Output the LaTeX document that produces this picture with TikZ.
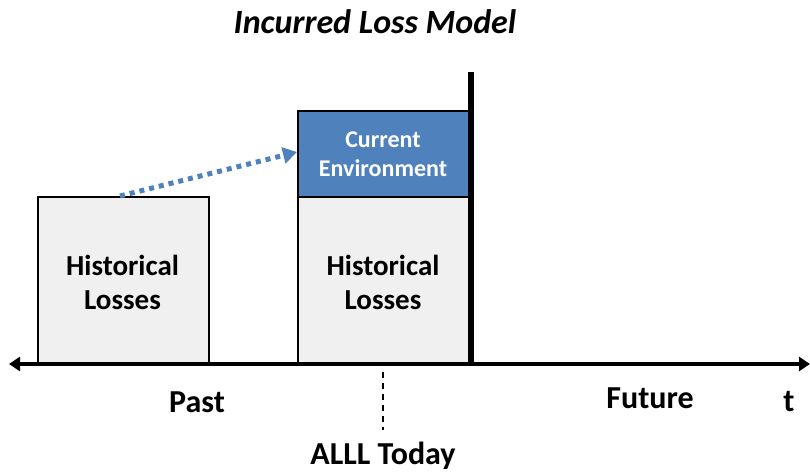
\documentclass[tikz,border=0pt]{standalone}
\usepackage{fontspec}
\setmainfont{Carlito}
\usetikzlibrary{arrows.meta}
\definecolor{boxgray}{HTML}{F0F0F0}
\definecolor{envblue}{HTML}{4F81BD}
\tikzset{
  lossbox/.style={draw=black, line width=1.5pt, fill=boxgray},
  envbox/.style={draw=black, line width=1.5pt, fill=envblue},
  boxtext/.style={font=\bfseries\fontsize{29}{34}\selectfont, align=center, text=black},
  envtext/.style={font=\bfseries\fontsize{24}{29}\selectfont, align=center, text=white},
  axislabel/.style={font=\bfseries\fontsize{32}{38}\selectfont, text=black}
}
\begin{document}
\begin{tikzpicture}[x=1pt,y=-1pt]
\useasboundingbox (0,0) rectangle (810,474);
% boxes
\node[lossbox, minimum width=171pt, minimum height=168pt, inner sep=0pt, anchor=north west] (hist1) at (37,196) {};
\node[boxtext] (hist1t) at (122.5,282) {Historical\\Losses};
\node[lossbox, minimum width=172pt, minimum height=168pt, inner sep=0pt, anchor=north west] (hist2) at (297,196) {};
\node[boxtext] (hist2t) at (383,282) {Historical\\Losses};
\node[envbox, minimum width=172pt, minimum height=86pt, inner sep=0pt, anchor=north west] (env) at (297,110) {};
\node[envtext] (envt) at (383,154) {Current\\Environment};
% today line
\coordinate (ttop) at (471,72);
\coordinate (tbot) at (471,364);
\draw[line width=6pt] (ttop) -- (tbot);
% axis
\coordinate (axl) at (9,364);
\coordinate (axr) at (810,364);
\draw[line width=4pt, {Triangle[length=11pt,width=14pt]}-{Triangle[length=11pt,width=14pt]}] (axl) -- (axr);
% dotted arrow
\coordinate (dstart) at (120,196);
\draw[envblue, line width=5pt, dash pattern=on 5pt off 5pt, -{Triangle[length=14pt,width=16pt]}] (dstart) -- (env.west |- 0,152);
% dashed line
\coordinate (dtop) at (383,372);
\coordinate (dbot) at (383,430);
\draw[line width=1.5pt, dash pattern=on 6pt off 5pt] (dtop) -- (dbot);
% labels
\node[font=\bfseries\itshape\fontsize{34}{40}\selectfont] (title) at (375,22) {Incurred Loss Model};
\node[axislabel] (past) at (197,402) {Past};
\node[axislabel] (future) at (650,398) {Future};
\node[axislabel] (t) at (789,402) {t};
\node[axislabel, inner sep=0pt] (alll) at (383,456) {ALLL Today};
\end{tikzpicture}
\end{document}
